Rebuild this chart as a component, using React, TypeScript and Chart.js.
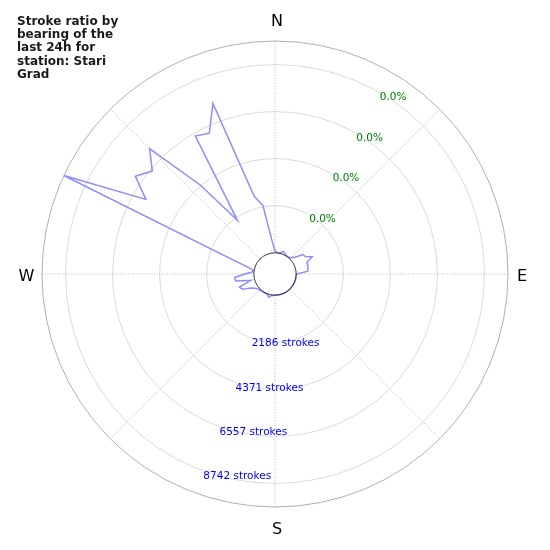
import { useEffect, useRef } from "react";
import { Chart, registerables } from "chart.js";

Chart.register(...registerables);

// bearing bins (degrees, clockwise from north)
const bearings = [
  0, 5, 10, 15, 20, 25, 30, 35, 40, 45, 50, 55, 60, 65, 70, 75, 80, 85,
  90, 95, 100, 105, 110, 115, 120, 125, 130, 135, 140, 145, 150, 155, 160, 165, 170, 175,
  180, 185, 190, 195, 200, 205, 210, 215, 220, 225, 230, 235, 240, 245, 250, 255, 260, 265,
  270, 275, 280, 285, 290, 295, 300, 305, 310, 315, 320, 325, 330, 335, 340, 345, 350, 355,
];

// strokes per bearing bin
const strokes = [
  83, 37, 14, 37, 130, 83, 37, 14, 37, 83, 223, 594, 640, 918, 594, 594, 570, 547,
  14, 0, 0, 0, 0, 0, 0, 0, 0, 0, 0, 0, 0, 0, 0, 0, 0, 0,
  0, 14, 37, 130, 37, 14, 14, 14, 37, 60, 83, 176, 315, 686, 779, 176, 872, 895,
  408, 83, 37, 422, 1516, 9835, 5940, 6928, 6455, 7252, 4396, 2059, 6413, 6228, 7452, 2750, 2244, 547,
];

const ringValues = [2186, 4371, 6557, 8742];
const ringLabels = ["2186 strokes", "4371 strokes", "6557 strokes", "8742 strokes"];
const ratioLabels = ["0.0%", "0.0%", "0.0%", "0.0%"];
const gridBearings = [0, 45, 90, 135, 180, 225, 270, 315];
const compassLabels = ["N", "E", "S", "W"];
const titleLines = ["Stroke ratio by", "bearing of the", "last 24h for", "station: Stari", "Grad"];

const rMax = 9835;
const rOrigin = -983.5;

const FONT = '"DejaVu Sans", "Liberation Sans", sans-serif';

const polarDecor = {
  id: "polarDecor",
  beforeDatasetsDraw(chart: any) {
    const s = chart.scales.r;
    const ctx = chart.ctx;
    const cx = s.xCenter, cy = s.yCenter;
    const d = (v: number) => s.getDistanceFromCenterForValue(v);
    ctx.save();
    // rings
    ctx.strokeStyle = "#d0d0d0";
    ctx.lineWidth = 0.8;
    ringValues.forEach((v) => {
      ctx.beginPath();
      ctx.arc(cx, cy, d(v), 0, Math.PI * 2);
      ctx.stroke();
    });
    // outer
    ctx.strokeStyle = "#b0b0b0";
    ctx.lineWidth = 1;
    ctx.beginPath();
    ctx.arc(cx, cy, d(rMax), 0, Math.PI * 2);
    ctx.stroke();
    // spokes
    ctx.strokeStyle = "#a8a8a8";
    ctx.lineWidth = 0.8;
    ctx.setLineDash([1, 1.6]);
    gridBearings.forEach((b) => {
      const a = (b * Math.PI) / 180 - Math.PI / 2;
      ctx.beginPath();
      ctx.moveTo(cx + Math.cos(a) * d(0), cy + Math.sin(a) * d(0));
      ctx.lineTo(cx + Math.cos(a) * d(rMax), cy + Math.sin(a) * d(rMax));
      ctx.stroke();
    });
    ctx.restore();
  },
  afterDatasetsDraw(chart: any) {
    const s = chart.scales.r;
    const ctx = chart.ctx;
    const cx = s.xCenter, cy = s.yCenter;
    const d = (v: number) => s.getDistanceFromCenterForValue(v);
    ctx.save();
    // inner hole
    ctx.strokeStyle = "#222";
    ctx.lineWidth = 0.9;
    ctx.beginPath();
    ctx.arc(cx, cy, d(0), 0, Math.PI * 2);
    ctx.stroke();

    ctx.font = `10.5px ${FONT}`;
    ctx.textAlign = "left";
    ctx.textBaseline = "middle";
    const at = (b: number, v: number) => {
      const a = (b * Math.PI) / 180 - Math.PI / 2;
      return [cx + Math.cos(a) * d(v), cy + Math.sin(a) * d(v)];
    };
    ringValues.forEach((v, i) => {
      const [x, y] = at(30, v);
      ctx.fillStyle = "#008000";
      ctx.fillText(ratioLabels[i], x, y + 4.5);
      const [x2, y2] = at(200, v);
      ctx.fillStyle = "#0000ff";
      ctx.fillText(ringLabels[i], x2, y2 + 5.5);
    });

    // compass
    ctx.font = `16px ${FONT}`;
    ctx.fillStyle = "#000";
    ctx.textAlign = "center";
    ctx.fillText(compassLabels[0], cx + 2, cy - 252.5);
    ctx.fillText(compassLabels[1], cx + 247, cy + 2.5);
    ctx.fillText(compassLabels[2], cx + 2, cy + 256);
    ctx.fillText(compassLabels[3], cx - 248.5, cy + 2.5);

    // title
    ctx.font = `bold 12px ${FONT}`;
    ctx.fillStyle = "#1a1a1a";
    ctx.textAlign = "left";
    ctx.textBaseline = "alphabetic";
    titleLines.forEach((t, i) => ctx.fillText(t, 17, 25 + i * 13.2));
    ctx.restore();
  },
};

export default function App() {
  const ref = useRef<HTMLCanvasElement | null>(null);
  useEffect(() => {
    document.body.style.margin = "0";
    if (!ref.current) return;
    const ch = new Chart(ref.current, {
      type: "radar",
      data: {
        labels: bearings.map(String),
        datasets: [
          {
            data: strokes,
            borderColor: "#8c8cff",
            borderWidth: 1.5,
            pointRadius: 0,
            fill: false,
            tension: 0,
          },
        ],
      },
      options: {
        animation: false,
        responsive: false,
        layout: { padding: { left: 42, right: 41, top: 41, bottom: 42 } },
        plugins: { legend: { display: false }, tooltip: { enabled: false }, title: { display: false } },
        scales: {
          r: {
            min: rOrigin,
            max: rMax,
            ticks: { display: false },
            grid: { display: false },
            angleLines: { display: false },
            pointLabels: { display: false },
          },
        },
      },
      plugins: [polarDecor],
    });
    return () => ch.destroy();
  }, []);
  return <canvas ref={ref} width={550} height={550} style={{ display: "block" }}></canvas>;
}
